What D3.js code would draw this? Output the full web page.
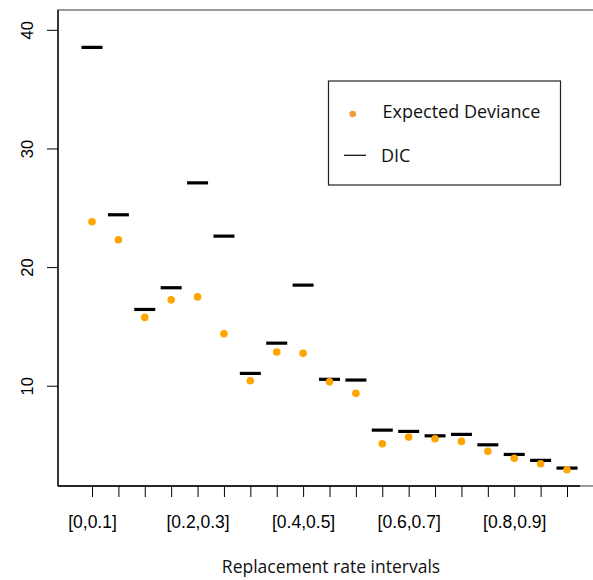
<!DOCTYPE html>
<html>
<head>
<meta charset="utf-8">
<script src="https://cdn.jsdelivr.net/npm/d3@7"></script>
<style>
  html, body { margin: 0; padding: 0; background: #fff; }
  svg { display: block; }
</style>
</head>
<body>
<svg id="chart" width="593" height="580"></svg>
<script>
// ---- Data ----
const categories = [
  "[0,0.1]", "[0.05,0.15]", "[0.1,0.2]", "[0.15,0.25]", "[0.2,0.3]",
  "[0.25,0.35]", "[0.3,0.4]", "[0.35,0.45]", "[0.4,0.5]", "[0.45,0.55]",
  "[0.5,0.6]", "[0.55,0.65]", "[0.6,0.7]", "[0.65,0.75]", "[0.7,0.8]",
  "[0.75,0.85]", "[0.8,0.9]", "[0.85,0.95]", "[0.9,1]"
];
const shownLabels = ["[0,0.1]", "[0.2,0.3]", "[0.4,0.5]", "[0.6,0.7]", "[0.8,0.9]"];
const dicValues = [
  38.52, 24.41, 16.43, 18.26, 27.10, 22.61, 11.04, 13.59, 18.48, 10.54,
  10.48, 6.26, 6.15, 5.78, 5.90, 5.02, 4.21, 3.71, 3.06
];
const expectedDeviance = [
  23.82, 22.30, 15.76, 17.24, 17.49, 14.38, 10.42, 12.84, 12.73, 10.33,
  9.36, 5.11, 5.67, 5.53, 5.31, 4.47, 3.88, 3.42, 2.92
];
const yTicks = [10, 20, 30, 40];
const seriesNames = ["Expected Deviance", "DIC"];

// ---- Layout ----
const svg = d3.select("#chart");
const plotLeft = 58, plotTop = 10, plotBottom = 486;

const x = d3.scalePoint().domain(categories).range([92, 567]);
const y = d3.scaleLinear().domain([1.55, 41.67]).range([plotBottom, plotTop]);

// frame (gray)
svg.append("rect")
  .attr("x", plotLeft).attr("y", plotTop)
  .attr("width", 700).attr("height", plotBottom - plotTop)
  .attr("fill", "none").attr("stroke", "#666").attr("stroke-width", 1.3);

// y axis
const yAxis = svg.append("g").attr("transform", `translate(${plotLeft},0)`)
  .call(d3.axisLeft(y).tickValues(yTicks).tickSize(11).tickFormat(d3.format("d")));
yAxis.select(".domain").attr("d", `M0,${plotTop}V${plotBottom}`).attr("stroke", "#000").attr("stroke-width", 1.3);
yAxis.selectAll(".tick line").attr("stroke", "#000");
yAxis.selectAll(".tick text")
  .attr("x", null).attr("dy", null)
  .attr("transform", "translate(-25.5,0) rotate(-90)")
  .attr("text-anchor", "middle")
  .style("font-family", "'Liberation Sans', Arial, sans-serif")
  .style("font-size", "16.5px").attr("fill", "#000");

// x axis
const xAxis = svg.append("g").attr("transform", `translate(0,${plotBottom})`)
  .call(d3.axisBottom(x).tickSize(11).tickFormat(d => shownLabels.includes(d) ? d : ""));
xAxis.select(".domain").attr("d", `M${plotLeft},0H580`).attr("stroke", "#000").attr("stroke-width", 1.3);
xAxis.selectAll(".tick line").attr("stroke", "#000");
xAxis.selectAll(".tick text")
  .attr("y", 41.5).attr("dy", null)
  .style("font-family", "'Liberation Sans', Arial, sans-serif")
  .style("font-size", "17.5px").attr("fill", "#000");

// x title
svg.append("text")
  .attr("x", 331).attr("y", 573)
  .attr("text-anchor", "middle")
  .style("font-family", "'Open Sans', sans-serif")
  .style("font-size", "17.5px")
  .attr("fill", "#111")
  .text("Replacement rate intervals");

// DIC bars
svg.append("g").selectAll("line").data(categories).join("line")
  .attr("x1", d => x(d) - 10.5).attr("x2", d => x(d) + 10.5)
  .attr("y1", (d, i) => y(dicValues[i])).attr("y2", (d, i) => y(dicValues[i]))
  .attr("stroke", "#000").attr("stroke-width", 3.2);

// Expected deviance points
svg.append("g").selectAll("circle").data(categories).join("circle")
  .attr("cx", d => x(d)).attr("cy", (d, i) => y(expectedDeviance[i]))
  .attr("r", 3.8).attr("fill", "#FFA500");

// legend
const lg = svg.append("g");
lg.append("rect").attr("x", 328.5).attr("y", 81).attr("width", 232).attr("height", 104)
  .attr("fill", "#fff").attr("stroke", "#222").attr("stroke-width", 1.2);
lg.append("circle").attr("cx", 352.7).attr("cy", 114).attr("r", 3.3).attr("fill", "#F39A3B");
lg.append("line").attr("x1", 344).attr("x2", 366).attr("y1", 155.3).attr("y2", 155.3)
  .attr("stroke", "#000").attr("stroke-width", 1.2);
lg.selectAll("text").data(seriesNames).join("text")
  .attr("x", (d, i) => i === 0 ? 382.5 : 381)
  .attr("y", (d, i) => i === 0 ? 118.3 : 161.7)
  .style("font-family", "'Open Sans', sans-serif")
  .style("font-size", "18px")
  .attr("fill", "#111")
  .text(d => d);
</script>
</body>
</html>
